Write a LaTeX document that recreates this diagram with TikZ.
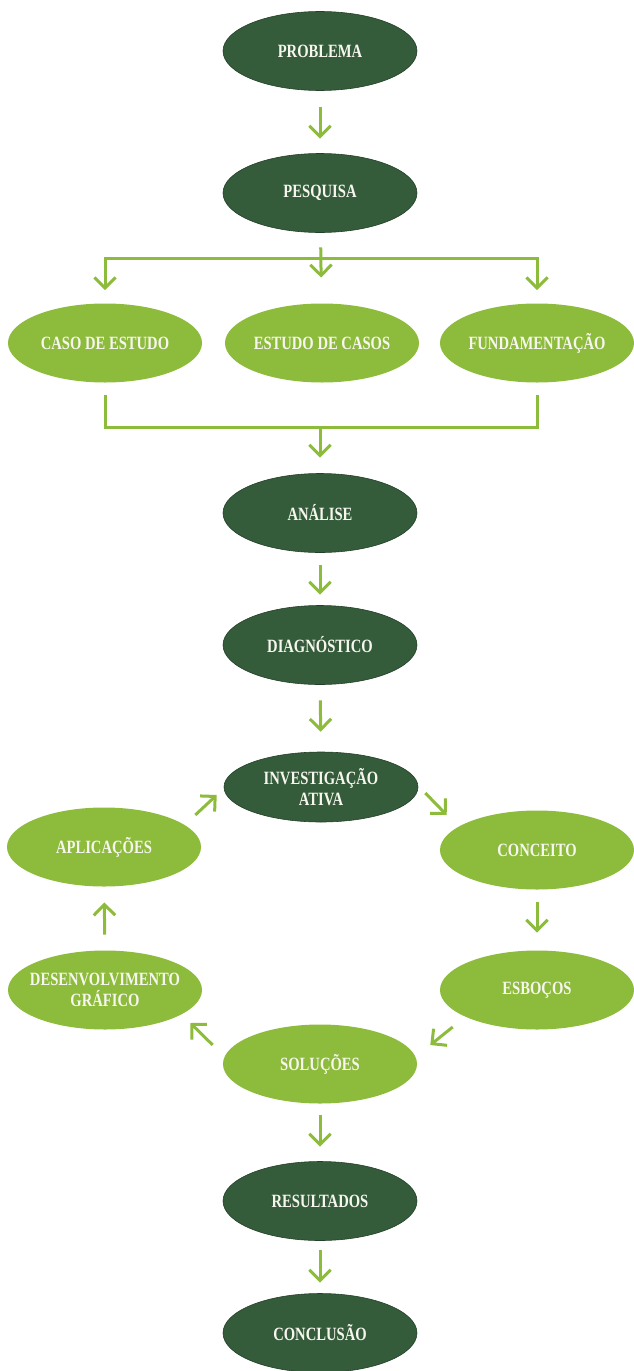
\documentclass[tikz,border=0pt]{standalone}
\usepackage{fontspec}
\setmainfont{Liberation Serif}[FakeStretch=0.78]
\usetikzlibrary{shapes.geometric}
\usetikzlibrary{arrows.meta}
\usetikzlibrary{calc}

\definecolor{verdeescuro}{RGB}{52,91,58}
\definecolor{verdeclaro}{RGB}{141,187,59}
\definecolor{textoclaro}{RGB}{246,246,238}

\tikzset{
  etapa/.style={ellipse, fill=verdeescuro, draw=verdeescuro!70!black, line width=0.5pt,
    text=textoclaro, font=\fontsize{16}{17.5}\selectfont\bfseries, align=center,
    minimum width=5.82cm, minimum height=2.37cm, inner xsep=-0.3cm, inner ysep=0pt},
  ramo/.style={etapa, fill=verdeclaro, draw=none},
  linha/.style={draw=verdeclaro, line width=0.09cm},
  seta/.style={linha, -{Straight Barb[length=0.32cm, width=0.64cm]}},
}

\begin{document}
\begin{tikzpicture}[x=0.03cm, y=-0.03cm]
\useasboundingbox (0,0) rectangle (633,1371);

% eixo central
\node[etapa] (problema) at (320,51) {PROBLEMA};
\node[etapa] (pesquisa) at (320,193) {PESQUISA};
\node[ramo] (caso) at (105,343) {CASO DE ESTUDO};
\node[ramo] (estudo) at (322,343) {ESTUDO DE CASOS};
\node[ramo] (fundam) at (537,343) {FUNDAMENTAÇÃO};
\node[etapa] (analise) at (320,513) {ANÁLISE};
\node[etapa] (diagnostico) at (320,645) {DIAGNÓSTICO};

% ciclo
\node[etapa, minimum height=2.1cm] (investiga) at (321,787) {INVESTIGAÇÃO\\ATIVA};
\node[ramo] (conceito) at (537,850) {CONCEITO};
\node[ramo] (esbocos) at (537,990) {ESBOÇOS};
\node[ramo] (solucoes) at (320,1064) {SOLUÇÕES};
\node[ramo] (desenv) at (105,990) {DESENVOLVIMENTO\\GRÁFICO};
\node[ramo] (aplica) at (104,847) {APLICAÇÕES};

\node[etapa] (resultados) at (320,1201) {RESULTADOS};
\node[etapa] (conclusao) at (320,1333) {CONCLUSÃO};

\coordinate (divide) at (320,258);
\coordinate (junta) at (320,427);

\draw[seta, shorten <=0.5cm, shorten >=0.44cm] (problema) -- (pesquisa);
\draw[seta, shorten <=0.44cm, shorten >=0.77cm] (pesquisa) -- (estudo);
\draw[linha, line cap=rect] (caso |- divide) -- (fundam |- divide);
\draw[seta, shorten >=0.39cm] (caso |- divide) -- (caso.north);
\draw[seta, shorten >=0.39cm] (fundam |- divide) -- (fundam.north);
\draw[linha, shorten <=0.38cm, shorten >=0.38cm] (caso.south) |- (junta) -| (fundam.south);
\draw[seta, shorten >=0.47cm] (junta) -- (analise.north);
\draw[seta, shorten <=0.38cm, shorten >=0.32cm] (analise) -- (diagnostico);
\draw[seta, shorten <=0.47cm, shorten >=0.6cm] (diagnostico) -- (investiga);

\draw[seta] ($(investiga.east)+(7,6)$) -- ($(conceito.west)+(7,-35)$);
\draw[seta, shorten <=0.38cm, shorten >=0.53cm] (conceito) -- (esbocos);
\draw[seta] ($(esbocos.west)+(13,37)$) -- ($(solucoes.east)+(13,-19)$);
\draw[seta] ($(solucoes.west)+(-10,-19)$) -- ($(desenv.east)+(-12,33)$);
\draw[seta, shorten <=0.47cm, shorten >=0.47cm] (desenv) -- (aplica);
\draw[seta] ($(aplica.east)+(-6,-32)$) -- ($(investiga.west)+(-7,8)$);

\draw[seta, shorten <=0.35cm, shorten >=0.44cm] (solucoes) -- (resultados);
\draw[seta, shorten <=0.29cm, shorten >=0.32cm] (resultados) -- (conclusao);
\end{tikzpicture}
\end{document}
